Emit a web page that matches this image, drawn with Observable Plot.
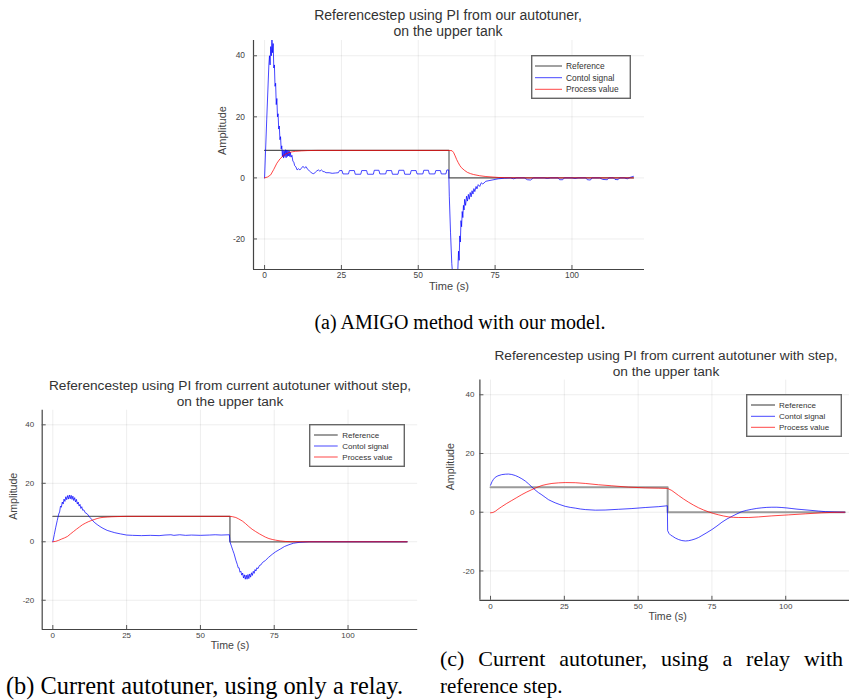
<!DOCTYPE html>
<html><head><meta charset="utf-8">
<script src="https://cdn.jsdelivr.net/npm/d3@7"></script>
<script src="https://cdn.jsdelivr.net/npm/@observablehq/plot@0.6"></script>
<style>
html,body{margin:0;padding:0;}
body{width:849px;height:700px;overflow:hidden;background:#fff;position:relative;font-family:"Liberation Sans",Arial,sans-serif;}
.title{position:absolute;text-align:center;color:#333;line-height:16px;white-space:nowrap;transform:translateX(-50%);}
.cap{position:absolute;font-family:"Liberation Serif","Times New Roman",serif;color:#000;white-space:nowrap;line-height:24px;}
</style></head><body>
<script>
// ---------- shared axis data ----------
const xTicks = [0, 25, 50, 75, 100];
const yTicks = [-20, 0, 20, 40];
const xDomain = [-3.6, 123.6];
const yDomain = [-30, 45];
const seriesNames = ["Reference", "Contol signal", "Process value"];

// ---------- panel (a): our autotuner ----------
const aTitle = ["Referencestep using PI from our autotuner,", "on the upper tank"];
const aReference = [[0,9],[60,9],[60,0],[120,0]];
const aControl = [[0,0],[0.7,19],[1.4,37],[1.6,40],[1.8,37],[2.0,43],[2.2,40],[2.4,46],[2.6,41],[2.8,44],[3.0,36],[3.2,37],[3.4,30],[3.6,31],[3.8,24],[4.0,26],[4.2,20],[4.4,21],[4.6,16],[4.8,17],[5.0,12.5],[5.2,13.5],[5.4,9.5],[5.6,10.5],[5.8,7],[6.0,9],[6.2,6.5],[6.4,8.8],[6.6,7],[6.8,9.2],[7.0,6.6],[7.2,9],[7.4,7],[7.6,9],[7.8,7.2],[8.0,8.8],[8.2,7],[8.4,8.4],[8.6,6.8],[8.9,7.4],[9.2,5.5],[9.5,5.2],[9.8,4],[10.2,3.6],[10.6,2.6],[11,3],[11.5,2.6],[12,3.2],[12.5,3.8],[13,3.2],[13.5,3.7],[14,2.8],[14.5,2.4],[15,1.9],[15.5,1.5],[16,1.4],[16.5,1.8],[17,2.3],[17.5,2.6],[18,2.2],[18.5,2.6],[19,2.1],[19.5,2.0],[20,1.7],[21,1.7],[22,1.5],[23,1.6],[24,1.7],[24.4,2.4],[25.2,2.4],[25.5,1.3],[27.3,1.3],[27.6,2.4],[29.2,2.4],[29.5,1.2],[31.3,1.2],[31.6,2.4],[33.2,2.4],[33.5,1.2],[35.4,1.2],[35.7,2.5],[37.2,2.5],[37.5,1.3],[39.4,1.3],[39.7,2.4],[41.3,2.4],[41.6,1.2],[43.4,1.2],[43.7,2.5],[45.3,2.5],[45.6,1.2],[47.4,1.2],[47.7,2.4],[49.3,2.4],[49.6,1.3],[51.5,1.3],[51.8,2.5],[53.3,2.5],[53.6,1.3],[55.4,1.3],[55.7,2.4],[57.2,2.4],[57.5,1.3],[59,1.3],[59.3,2.6],[59.9,2.6],[60.1,-6],[60.5,-18],[60.9,-28],[61.2,-32],[62.8,-32],[63.1,-24],[63.3,-27],[63.5,-19],[63.7,-21],[63.9,-14],[64.1,-16],[64.3,-11],[64.5,-13],[64.7,-9],[64.9,-10.5],[65.1,-7],[65.4,-9],[65.7,-6],[66,-7.6],[66.3,-5.4],[66.6,-7],[66.9,-4.8],[67.2,-6.2],[67.5,-4.2],[67.8,-5.3],[68.1,-3.5],[68.4,-4.5],[68.8,-2.8],[69.1,-3.6],[69.5,-2.2],[70,-2.8],[70.5,-1.6],[71,-2.0],[72,-1.1],[73,-0.9],[74,-0.7],[75,-0.5],[76,-0.3],[78,-0.1],[80,0],[81,-0.3],[82,0],[84.5,0],[85.5,-0.6],[86.5,-0.7],[87.5,0],[91,0],[92,-0.2],[93,0],[95.5,0],[96,-0.6],[97,-0.6],[97.5,0],[100,0],[101,-0.2],[102,0],[104.5,0],[105,-0.6],[106,-0.7],[106.5,0],[109,0],[110,-0.5],[111.5,-0.6],[112,0],[113.5,0],[114,-0.5],[115,-0.6],[115.5,0],[117,0],[118,-0.3],[119,0.2],[120,0.5]];
const aProcess = [[0,0],[1,0.3],[2,1],[3,2.8],[4,4.8],[5,6.2],[6,7.2],[7,7.9],[8,8.3],[9,8.55],[10,8.7],[12,8.85],[14,8.95],[17,9],[60,9],[61,8.9],[61.5,8.3],[62,7.2],[62.5,6],[63,5],[63.5,4.1],[64,3.4],[65,2.5],[66,1.8],[67,1.4],[68,1.1],[70,0.7],[72,0.45],[74,0.3],[76,0.15],[78,0.08],[80,0.03],[85,0],[120,0]];
const aCaption = "(a) AMIGO method with our model.";

// ---------- panel (b): current autotuner without step ----------
const bTitle = ["Referencestep using PI from current autotuner without step,", "on the upper tank"];
const bReference = [[0,8.7],[60,8.7],[60,0],[120,0]];
const bControl = [[0,0],[0.5,2.5],[1,5],[1.5,7.3],[2,9.5],[2.3,10.2],[2.6,12.2],[2.9,11.8],[3.2,13.6],[3.5,12.9],[3.8,14.6],[4.1,13.8],[4.4,15.4],[4.7,14.4],[5,15.8],[5.3,14.6],[5.6,16],[5.9,14.7],[6.2,15.9],[6.5,14.5],[6.8,15.6],[7.1,14.1],[7.4,15.1],[7.7,13.6],[8,14.5],[8.3,12.9],[8.6,13.6],[8.9,12.2],[9.2,12.8],[9.5,11.4],[9.8,12],[10.1,10.8],[10.5,10.9],[11,9.9],[11.6,9.6],[12.5,8.4],[13.3,7.5],[14,6.7],[15,5.9],[16,5.2],[17,4.6],[18.4,3.9],[20,3.4],[21,3.1],[22.9,2.7],[25,2.3],[27,2.2],[30,2.1],[33,2.2],[36,2.1],[38,2.3],[40,2.4],[41,2.2],[43,2.4],[45,2.2],[47,2.3],[50,2.2],[53,2.3],[55,2.4],[57,2.3],[59.8,2.4],[60,0],[60.5,-1.5],[61,-3],[61.4,-4.1],[62,-6.3],[62.5,-7.8],[62.8,-8.9],[63.1,-8.9],[63.4,-10.4],[63.7,-10.1],[64,-11.4],[64.3,-10.7],[64.6,-12.4],[64.9,-11.3],[65.2,-12.8],[65.5,-11.4],[65.8,-12.8],[66.1,-11.2],[66.4,-12.6],[66.7,-11],[67,-12.1],[67.3,-10.6],[67.6,-11.5],[67.9,-10.1],[68.2,-10.8],[68.5,-9.5],[68.8,-10],[69.1,-8.9],[69.5,-9.2],[70,-8.1],[70.5,-7.9],[71,-7.1],[72,-6.4],[73,-5.4],[74.3,-4.3],[75.5,-3.4],[77.2,-2.4],[78.5,-1.6],[80,-1],[81.5,-0.5],[83.4,-0.2],[86.8,0],[120,0]];
const bProcess = [[0,0],[1,0.15],[2,0.5],[3,0.95],[4,1.35],[5,1.85],[6,2.7],[7,3.5],[8,4.3],[9,5.05],[10,5.8],[11,6.35],[12,6.85],[13,7.25],[14,7.6],[15,7.95],[16,8.2],[17,8.35],[18.4,8.45],[20,8.55],[22,8.62],[25,8.7],[60,8.7],[60.8,8.6],[62,8.3],[63,7.8],[64.2,7.1],[65.3,6.2],[66.4,5.2],[67.5,4.3],[68.7,3.5],[70,2.7],[70.9,2.2],[72,1.6],[73.2,1.1],[74.3,0.8],[75.5,0.55],[77,0.3],[78.9,0.1],[81,0.03],[84,0],[120,0]];
const bCaption = "(b) Current autotuner, using only a relay.";

// ---------- panel (c): current autotuner with step ----------
const cTitle = ["Referencestep using PI from current autotuner with step,", "on the upper tank"];
const cReference = [[0,8.5],[60,8.5],[60,0],[120,0]];
const cControl = [[0,9.2],[0.5,10.4],[1,11.2],[1.6,11.9],[2.5,12.4],[3.8,12.8],[5,12.95],[6.1,13],[7.2,12.85],[8.4,12.5],[9.5,12],[10.6,11.4],[11.8,10.6],[12.9,9.65],[14,8.6],[15.1,7.6],[16.2,6.7],[17.4,5.9],[18.5,5.1],[19.6,4.3],[20.8,3.7],[21.9,3.2],[23.5,2.6],[25.3,2.0],[27,1.65],[28.7,1.4],[30.4,1.1],[32.1,0.9],[35.5,0.7],[38.8,0.75],[43.4,1.0],[47.9,1.25],[52.4,1.6],[57,1.9],[59.9,2.2],[60,-6.3],[60.5,-7.3],[61,-7.8],[61.7,-8.2],[62.6,-8.8],[63.7,-9.3],[64.8,-9.65],[66,-9.8],[67.1,-9.7],[68.2,-9.45],[69.3,-9.1],[70.5,-8.6],[71.6,-7.95],[73.3,-6.95],[75,-5.9],[76.7,-4.7],[78.4,-3.4],[80.1,-2.3],[81.8,-1.4],[83.5,-0.55],[85.1,0.2],[86.8,0.65],[88.5,1.0],[90.2,1.3],[91.9,1.5],[93.6,1.65],[95.3,1.7],[97,1.7],[98.7,1.6],[100.4,1.45],[102.1,1.25],[103.8,1.05],[105.5,0.9],[107.2,0.75],[108.9,0.6],[111,0.4],[113.4,0.2],[116,0.1],[120,0]];
const cProcess = [[0,-0.2],[0.8,-0.1],[1.6,0.3],[2.5,1],[3.8,1.9],[5.5,3],[7.2,4],[8.9,5],[10.6,6],[12.3,6.9],[14,7.7],[15.7,8.45],[17.4,9.1],[19.1,9.5],[20.8,9.8],[23,10],[25.3,10.1],[28.7,10.05],[32.1,9.8],[36.6,9.35],[41.1,9],[46.7,8.55],[52.4,8.3],[57,8.2],[60,8.1],[61.4,7.4],[62.5,6.6],[63.7,5.7],[65.4,4.5],[67.1,3.4],[68.8,2.4],[70.5,1.5],[72.2,0.75],[73.9,0.1],[75.6,-0.45],[77.3,-0.9],[79,-1.3],[80.7,-1.6],[82.4,-1.75],[84.1,-1.8],[87.5,-1.8],[90.8,-1.6],[95.3,-1.25],[101,-0.9],[106.6,-0.55],[112.2,-0.2],[116,-0.05],[120,0]];
const cCaption = ["(c) Current autotuner, using a relay with", "reference step."];

// ---------- drawing ----------
const FF = '"Liberation Sans", Arial, Helvetica, sans-serif';
const BLUE = "#0000ff", RED = "#ff0000";

function drawPanel(o) {
  const X = d => d[0], Y = d => d[1];
  const fmt = d => String(d);
  const chart = Plot.plot({
    width: o.w, height: o.h,
    marginLeft: o.ml, marginRight: o.mr, marginTop: o.mt, marginBottom: o.mb,
    x: {domain: xDomain, label: null},
    y: {domain: yDomain, label: null},
    style: {fontFamily: FF, fontSize: o.tick + "px", color: "#444", background: "transparent", overflow: "visible"},
    marks: [
      Plot.gridX(xTicks, {stroke: "#000", strokeOpacity: 0.07, strokeWidth: 1}),
      Plot.gridY(yTicks, {stroke: "#000", strokeOpacity: 0.07, strokeWidth: 1}),
      Plot.line(o.ref, {x: X, y: Y, stroke: o.refColor, strokeWidth: o.refWidth, clip: true}),
      Plot.line(o.ctrl, {x: X, y: Y, stroke: BLUE, strokeOpacity: 0.72, strokeWidth: 1, clip: true}),
      Plot.line(o.pv, {x: X, y: Y, stroke: RED, strokeOpacity: 0.72, strokeWidth: 1, clip: true}),
      Plot.ruleX([xDomain[0]], {stroke: "#444", strokeWidth: 1.2}),
      Plot.ruleY([yDomain[0]], {stroke: "#444", strokeWidth: 1.2}),
      Plot.axisX(xTicks, {tickSize: -4, tickFormat: () => "", stroke: "#555", label: null}),
      Plot.axisY(yTicks, {tickSize: -4, tickFormat: () => "", stroke: "#555", label: null}),
      Plot.axisX(xTicks, {tickSize: 0, tickPadding: o.xpad, tickFormat: fmt, fill: "#444", fontSize: o.tick, label: null}),
      Plot.axisY(yTicks, {tickSize: 0, tickPadding: o.ypad, tickFormat: fmt, fill: "#444", fontSize: o.tick, label: null}),
      Plot.text(["Amplitude"], {frameAnchor: "left", dx: o.ylab, rotate: -90, fontSize: o.lab, fill: "#444"}),
      Plot.text(["Time (s)"], {frameAnchor: "bottom", dy: o.xlab, fontSize: o.lab, fill: "#444"})
    ]
  });
  chart.style.position = "absolute";
  chart.style.left = o.left + "px";
  chart.style.top = o.top + "px";
  document.body.appendChild(chart);

  // title
  const t = document.createElement("div");
  t.className = "title";
  t.style.left = o.tcx + "px";
  t.style.top = o.ttop + "px";
  t.style.fontSize = o.tfs + "px";
  t.innerHTML = o.title.map(s => `<div>${s}</div>`).join("");
  document.body.appendChild(t);

  // legend
  const L = o.legend;
  const svg = d3.select(document.body).append("svg")
    .style("position", "absolute").style("left", L.x + "px").style("top", L.y + "px")
    .attr("width", L.w).attr("height", L.h);
  svg.append("rect").attr("x", 0.7).attr("y", 0.7).attr("width", L.w - 1.4).attr("height", L.h - 1.4)
    .attr("fill", "#fff").attr("stroke", "#666").attr("stroke-width", 1.4);
  const cols = [o.refColor, BLUE, RED], ops = [1, 0.72, 0.72], ws = [o.refWidth, 1, 1];
  seriesNames.forEach((name, i) => {
    const yy = L.rows[i];
    svg.append("line").attr("x1", L.lx1).attr("x2", L.lx2).attr("y1", yy).attr("y2", yy)
      .attr("stroke", cols[i]).attr("stroke-opacity", ops[i]).attr("stroke-width", ws[i]);
    svg.append("text").attr("x", L.tx).attr("y", yy).attr("dy", "0.35em")
      .attr("font-size", L.fs).attr("font-family", FF).attr("fill", "#333").text(name);
  });
}

drawPanel({
  ref: aReference, ctrl: aControl, pv: aProcess, title: aTitle,
  left: 200, top: 30, w: 450, h: 270, ml: 53, mr: 6, mt: 10, mb: 31,
  tick: 8.4, lab: 11, xpad: 3, ypad: 8.5, ylab: -31, xlab: 20,
  refColor: "#555", refWidth: 1.1,
  tcx: 448, ttop: 7, tfs: 14,
  legend: {x: 531, y: 55, w: 100, h: 44, rows: [11, 22.7, 34.3], lx1: 4, lx2: 31, tx: 35, fs: 8.4}
});
drawPanel({
  ref: bReference, ctrl: bControl, pv: bProcess, title: bTitle,
  left: 0, top: 400, w: 425, h: 260, ml: 41.7, mr: 7.8, mt: 9.7, mb: 31,
  tick: 8, lab: 10.6, xpad: 3, ypad: 8, ylab: -29, xlab: 19,
  refColor: "#666", refWidth: 1.3,
  tcx: 230, ttop: 377.7, tfs: 13.7,
  legend: {x: 309, y: 424, w: 96, h: 43, rows: [11, 22, 33], lx1: 5, lx2: 28.7, tx: 33.3, fs: 8}
});
drawPanel({
  ref: cReference, ctrl: cControl, pv: cProcess, title: cTitle,
  left: 430, top: 370, w: 430, h: 260, ml: 49.4, mr: 5.1, mt: 9.6, mb: 30.2,
  tick: 8, lab: 10.6, xpad: 3, ypad: 5.5, ylab: -29.4, xlab: 19.5,
  refColor: "#9a9a9a", refWidth: 2,
  tcx: 666, ttop: 347.7, tfs: 13.7,
  legend: {x: 746, y: 394, w: 96, h: 43, rows: [11, 22.3, 33.3], lx1: 5, lx2: 29, tx: 33, fs: 8}
});

// captions
function cap(text, style) {
  const d = document.createElement("div");
  d.className = "cap";
  Object.assign(d.style, style);
  d.textContent = text;
  document.body.appendChild(d);
  return d;
}
cap(aCaption, {left: "460px", top: "310px", fontSize: "20px", transform: "translateX(-50%)"});
cap(bCaption, {left: "6px", top: "674px", fontSize: "24.4px"});
cap(cCaption[0], {left: "440px", top: "647px", fontSize: "22px", width: "403px", textAlign: "justify", textAlignLast: "justify"});
cap(cCaption[1], {left: "440px", top: "674px", fontSize: "21px"});
</script>
</body></html>
